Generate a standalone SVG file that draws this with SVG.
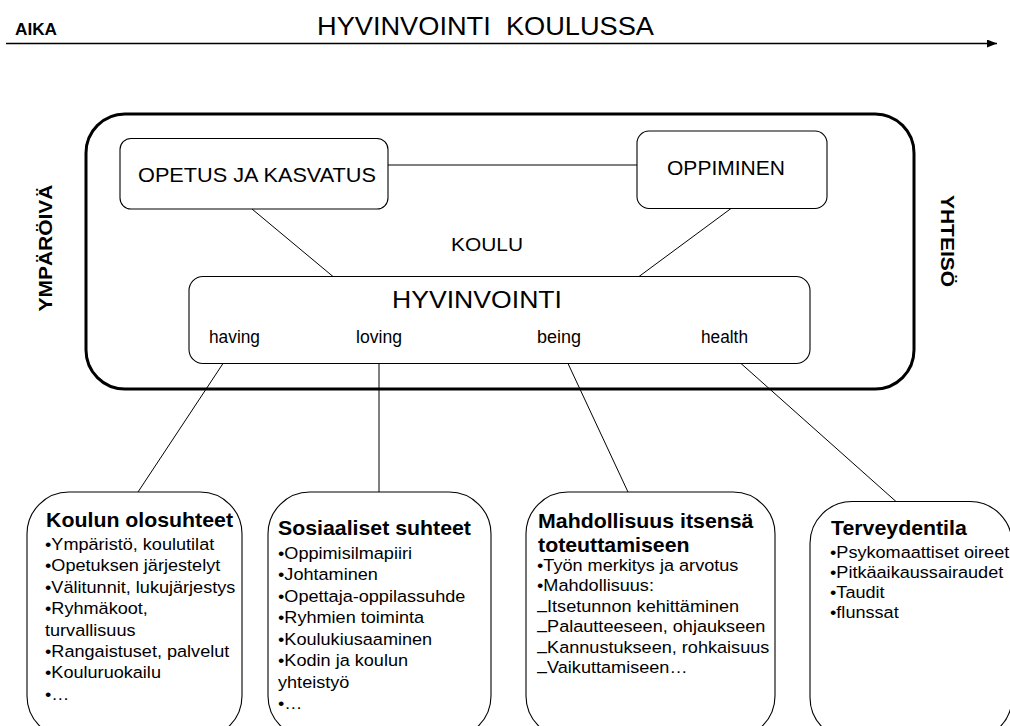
<svg xmlns="http://www.w3.org/2000/svg" width="1010" height="726" viewBox="0 0 1010 726">
<defs>
<style>
text{font-family:"Liberation Sans",Arial,sans-serif;fill:#000}
.b{font-weight:bold}
.box{fill:#fff;stroke:#000;stroke-width:1.1}
.outer{fill:none;stroke:#000;stroke-width:3}
.con line{stroke:#000;stroke-width:1}
.hd{font-size:20px;font-weight:bold}
.bd{font-size:17px}
.lab{font-size:17.5px}
</style>
<marker id="ah" viewBox="0 0 10 8" refX="10" refY="4" markerWidth="10" markerHeight="8" markerUnits="userSpaceOnUse" orient="auto">
<path d="M0,0 L10,4 L0,8 Z" fill="#000"/>
</marker>
</defs>
<rect width="1010" height="726" fill="#fff"/>

<g id="time-axis">
<text class="b" x="15" y="35" font-size="16" textLength="42" lengthAdjust="spacingAndGlyphs">AIKA</text>
<text x="317" y="35" font-size="25" textLength="337" lengthAdjust="spacingAndGlyphs" xml:space="preserve">HYVINVOINTI  KOULUSSA</text>
<line x1="6" y1="43.5" x2="997" y2="43.5" stroke="#000" stroke-width="1.5" marker-end="url(#ah)"/>
</g>

<g id="side-labels">
<text class="b" transform="translate(52 248) rotate(-90)" text-anchor="middle" font-size="19" textLength="127" lengthAdjust="spacingAndGlyphs">YMPÄRÖIVÄ</text>
<text class="b" transform="translate(941 241) rotate(90)" text-anchor="middle" font-size="19" textLength="92" lengthAdjust="spacingAndGlyphs">YHTEISÖ</text>
</g>

<g id="koulu">
<rect class="outer" x="86" y="114" width="828" height="275" rx="39" ry="39"/>
<text x="451" y="251" font-size="19" textLength="72" lengthAdjust="spacingAndGlyphs">KOULU</text>
</g>

<g class="con" id="connectors">
<line x1="388" y1="165" x2="637" y2="165"/>
<line x1="252" y1="209" x2="333" y2="276.5"/>
<line x1="731" y1="208.5" x2="639" y2="276.5"/>
<line x1="223" y1="363.5" x2="138" y2="492"/>
<line x1="379" y1="363.5" x2="379" y2="492"/>
<line x1="568" y1="363.5" x2="628" y2="492"/>
<line x1="741" y1="363.5" x2="896" y2="501.5"/>
</g>

<g id="opetus">
<rect class="box" x="120" y="138.5" width="268" height="70.5" rx="11"/>
<text x="138" y="182" font-size="20" textLength="238" lengthAdjust="spacingAndGlyphs">OPETUS JA KASVATUS</text>
</g>

<g id="oppiminen">
<rect class="box" x="637" y="131" width="190" height="77.5" rx="12"/>
<text x="667" y="175" font-size="20" textLength="118" lengthAdjust="spacingAndGlyphs">OPPIMINEN</text>
</g>

<g id="hyvinvointi">
<rect class="box" x="189" y="276.5" width="621" height="87" rx="14"/>
<text x="392" y="308" font-size="24" textLength="170" lengthAdjust="spacingAndGlyphs">HYVINVOINTI</text>
<text class="lab" x="209" y="343" textLength="51" lengthAdjust="spacingAndGlyphs">having</text>
<text class="lab" x="356" y="343" textLength="46" lengthAdjust="spacingAndGlyphs">loving</text>
<text class="lab" x="537" y="343" textLength="44" lengthAdjust="spacingAndGlyphs">being</text>
<text class="lab" x="701" y="343" textLength="47" lengthAdjust="spacingAndGlyphs">health</text>
</g>

<g id="koulun-olosuhteet">
<rect class="box" x="27" y="492" width="215" height="246" rx="42"/>
<g transform="translate(45 0) scale(1.065 1)">
<text class="hd" x="1" y="527">Koulun olosuhteet</text>
<text class="bd" x="0" y="550">•Ympäristö, koulutilat</text>
<text class="bd" x="0" y="571.4">•Opetuksen järjestelyt</text>
<text class="bd" x="0" y="592.8">•Välitunnit, lukujärjestys</text>
<text class="bd" x="0" y="614.2">•Ryhmäkoot,</text>
<text class="bd" x="0" y="635.6">turvallisuus</text>
<text class="bd" x="0" y="657">•Rangaistuset, palvelut</text>
<text class="bd" x="0" y="678.4">•Kouluruokailu</text>
<text class="bd" x="0" y="699.8">•…</text>
</g>
</g>

<g id="sosiaaliset-suhteet">
<rect class="box" x="268" y="492" width="223" height="246" rx="42"/>
<g transform="translate(278 0) scale(1.065 1)">
<text class="hd" x="0" y="535">Sosiaaliset suhteet</text>
<text class="bd" x="0" y="559">•Oppimisilmapiiri</text>
<text class="bd" x="0" y="580.5">•Johtaminen</text>
<text class="bd" x="0" y="602">•Opettaja-oppilassuhde</text>
<text class="bd" x="0" y="623.5">•Ryhmien toiminta</text>
<text class="bd" x="0" y="645">•Koulukiusaaminen</text>
<text class="bd" x="0" y="666.5">•Kodin ja koulun</text>
<text class="bd" x="0" y="688">yhteistyö</text>
<text class="bd" x="0" y="709.5">•…</text>
</g>
</g>

<g id="itsensa-toteuttaminen">
<rect class="box" x="526" y="492" width="249" height="246" rx="42"/>
<g transform="translate(537 0) scale(1.065 1)">
<text class="hd" x="1" y="528">Mahdollisuus itsensä</text>
<text class="hd" x="1" y="552">toteuttamiseen</text>
<text class="bd" x="0" y="571">•Työn merkitys ja arvotus</text>
<text class="bd" x="0" y="591.5">•Mahdollisuus:</text>
<text class="bd" x="0" y="612"><tspan dy="4">–</tspan><tspan dy="-4">Itsetunnon kehittäminen</tspan></text>
<text class="bd" x="0" y="632.5"><tspan dy="4">–</tspan><tspan dy="-4">Palautteeseen, ohjaukseen</tspan></text>
<text class="bd" x="0" y="653"><tspan dy="4">–</tspan><tspan dy="-4">Kannustukseen, rohkaisuus</tspan></text>
<text class="bd" x="0" y="673.5"><tspan dy="4">–</tspan><tspan dy="-4">Vaikuttamiseen…</tspan></text>
</g>
</g>

<g id="terveydentila">
<rect class="box" x="810" y="501.5" width="202" height="238" rx="42"/>
<g transform="translate(830 0) scale(1.065 1)">
<text class="hd" x="1" y="535">Terveydentila</text>
<text class="bd" x="0" y="558">•Psykomaattiset oireet</text>
<text class="bd" x="0" y="578">•Pitkäaikaussairaudet</text>
<text class="bd" x="0" y="598">•Taudit</text>
<text class="bd" x="0" y="618">•flunssat</text>
</g>
</g>
</svg>
